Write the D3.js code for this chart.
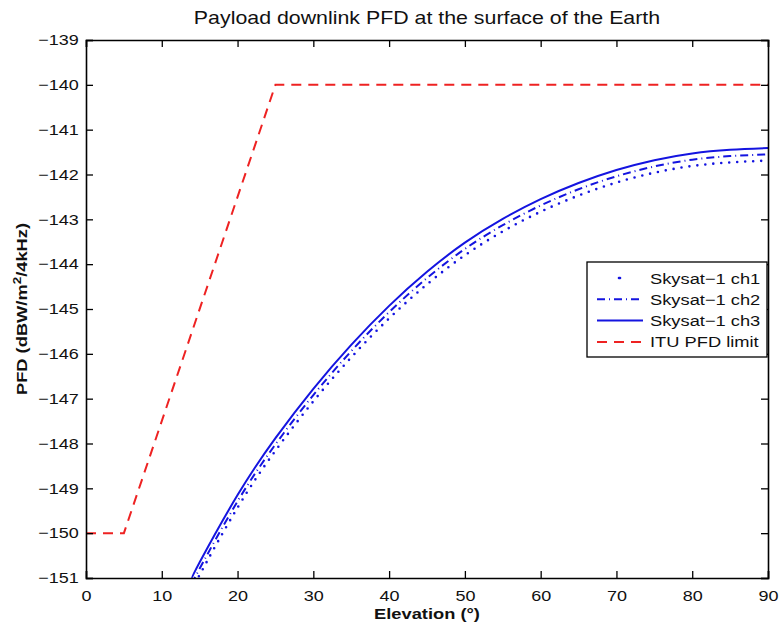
<!DOCTYPE html>
<html><head><meta charset="utf-8">
<script src="https://cdn.jsdelivr.net/npm/d3@7"></script>
<style>body{margin:0;background:#fff}text{font-family:"Liberation Sans",Arial,sans-serif}</style>
</head><body><svg id="c" width="781" height="627"></svg>
<script>
const elevation = [14,15,20,25,30,35,40,45,50,55,60,65,70,75,80,85,90];
const ch1 = [-151.28,-150.93,-149.43,-148.16,-147.06,-146.08,-145.21,-144.45,-143.80,-143.27,-142.83,-142.47,-142.18,-141.96,-141.81,-141.73,-141.69];
const ch2 = [-151.14,-150.79,-149.29,-148.02,-146.92,-145.94,-145.07,-144.31,-143.66,-143.13,-142.69,-142.33,-142.04,-141.82,-141.67,-141.59,-141.55];
const ch3 = [-151.0,-150.65,-149.15,-147.88,-146.78,-145.80,-144.93,-144.17,-143.52,-142.99,-142.55,-142.19,-141.90,-141.68,-141.53,-141.45,-141.41];
const ituElev = [0,5,25,90];
const ituLimit = [-150,-150,-140,-140];
const xTicks = [0,10,20,30,40,50,60,70,80,90];
const yTicks = [-139,-140,-141,-142,-143,-144,-145,-146,-147,-148,-149,-150,-151];
const seriesNames = ["Skysat\u22121 ch1","Skysat\u22121 ch2","Skysat\u22121 ch3","ITU PFD limit"];

const svg = d3.select("#c");
const L=86,R=768,T=40,B=578;
const SX = 1.2; // horizontal text stretch
const x = d3.scaleLinear().domain([0,90]).range([L,R]);
const y = d3.scaleLinear().domain([-151,-139]).range([B,T]);

svg.append("defs").append("clipPath").attr("id","clip").append("rect")
  .attr("x",L).attr("y",T).attr("width",R-L).attr("height",B-T);

const styles = [
  {stroke:"#1414e0", w:2.6, dash:"0 8", cap:"round"},
  {stroke:"#1414e0", w:2, dash:"8 4 1 4", cap:"butt"},
  {stroke:"#1414e0", w:2, dash:null, cap:"butt"},
  {stroke:"#ee2222", w:2, dash:"10 7", cap:"butt"}
];
const line = d3.line().x(d=>x(d[0])).y(d=>y(d[1])).curve(d3.curveNatural);
const lineLin = d3.line().x(d=>x(d[0])).y(d=>y(d[1]));
const data = [
  elevation.map((e,i)=>[e,ch1[i]]),
  elevation.map((e,i)=>[e,ch2[i]]),
  elevation.map((e,i)=>[e,ch3[i]]),
  ituElev.map((e,i)=>[e,ituLimit[i]])
];
const g = svg.append("g").attr("clip-path","url(#clip)");
data.forEach((d,i)=>{
  g.append("path").attr("d", i===3?lineLin(d):line(d)).attr("fill","none")
   .attr("stroke",styles[i].stroke).attr("stroke-width",styles[i].w)
   .attr("stroke-dasharray",styles[i].dash).attr("stroke-linecap",styles[i].cap);
});

// axes (MATLAB box with inward ticks)
const fs = 15;
const ax = svg.append("g");
ax.append("g").attr("transform",`translate(0,${B})`).call(d3.axisBottom(x).tickValues(xTicks).tickSize(-7).tickPadding(12));
ax.append("g").attr("transform",`translate(0,${T})`).call(d3.axisTop(x).tickValues(xTicks).tickSize(-7).tickFormat(""));
ax.append("g").attr("transform",`translate(${L},0)`).call(d3.axisLeft(y).tickValues(yTicks).tickSize(-7).tickPadding(6).tickFormat(d=>"\u2212"+Math.abs(d)));
ax.append("g").attr("transform",`translate(${R},0)`).call(d3.axisRight(y).tickValues(yTicks).tickSize(-7).tickFormat(""));
ax.selectAll(".domain").attr("stroke","#000").attr("stroke-width",1.6);
ax.selectAll(".tick line").attr("stroke","#000").attr("stroke-width",1.3);
ax.selectAll(".tick text").attr("font-size",fs).attr("fill","#111")
  .style("font-family","Liberation Sans, Arial, sans-serif")
  .attr("transform",`scale(${SX},1)`);

svg.append("text").attr("transform",`translate(${(L+R)/2},24) scale(1.22,1)`).attr("text-anchor","middle")
  .attr("font-size",17.5).attr("fill","#111").text("Payload downlink PFD at the surface of the Earth");
svg.append("text").attr("transform",`translate(${(L+R)/2},619) scale(1.22,1)`).attr("text-anchor","middle")
  .attr("font-size",15).attr("font-weight","bold").attr("fill","#111").text("Elevation (\u00b0)");
const yt = svg.append("text").attr("transform",`translate(27,${(T+B)/2}) rotate(-90) scale(1.22,1)`).attr("text-anchor","middle")
  .attr("font-size",15).attr("font-weight","bold").attr("fill","#111");
yt.append("tspan").text("PFD (dBW/m");
yt.append("tspan").attr("dy",-6).attr("font-size",11).text("2");
yt.append("tspan").attr("dy",6).text("/4kHz)");

// legend
const lg = svg.append("g");
lg.append("rect").attr("x",587).attr("y",262).attr("width",180).attr("height",95)
  .attr("fill","#fff").attr("stroke","#000").attr("stroke-width",1.3);
seriesNames.forEach((n,i)=>{
  const yy = 278 + i*21.3;
  lg.append("line").attr("x1",i===0?619:597).attr("x2",i===0?620:643).attr("y1",yy).attr("y2",yy)
    .attr("stroke",styles[i].stroke).attr("stroke-width",styles[i].w)
    .attr("stroke-dasharray",i===0?null:styles[i].dash).attr("stroke-linecap",styles[i].cap);
  lg.append("text").attr("transform",`translate(650,${yy+5.5}) scale(1.22,1)`).attr("font-size",15).attr("fill","#111").text(n);
});
</script></body></html>
